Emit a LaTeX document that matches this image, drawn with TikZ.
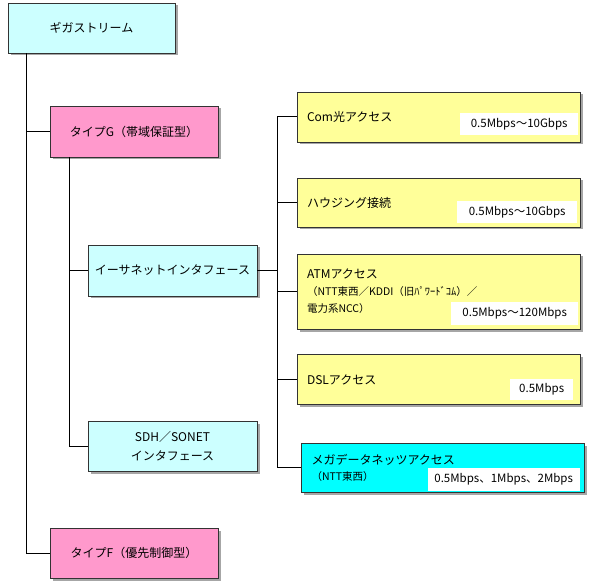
\documentclass[tikz,border=0pt]{standalone}
\usepackage{fontspec}
\setmainfont{Noto Sans CJK JP}
\usetikzlibrary{shadows}

\definecolor{paleCyan}{HTML}{CCFFFF}
\definecolor{pinkBox}{HTML}{FF99CC}
\definecolor{paleYellow}{HTML}{FFFF99}
\definecolor{brightCyan}{HTML}{00FFFF}

\newcommand{\subfont}{\fontsize{10.5}{17}\selectfont}

\begin{document}
\begin{tikzpicture}[x=1pt,y=1pt,
  box/.style={draw=black!80,line width=0.8pt,inner sep=0pt,
    drop shadow={shadow xshift=2.5pt,shadow yshift=-2.5pt,fill=black!35,opacity=1},
    font=\fontsize{12}{17}\selectfont},
  treebox/.style={box,minimum width=168pt,minimum height=51pt,align=center},
  svcbox/.style={box,fill=paleYellow,text width=263pt,inner xsep=10pt,
    minimum height=50pt,align=left},
  rate/.style={fill=white,inner sep=0pt,minimum height=22pt,anchor=south east,
    font=\fontsize{11.5}{13}\selectfont},
  tree/.style={line width=1pt}]
  \useasboundingbox (0,0) rectangle (592,582);

  % Draw left hand tree
  \node[treebox,fill=paleCyan,minimum width=167pt,minimum height=50pt] (root)
        at (91.5,554) {ギガストリーム};
  \node[treebox,fill=pinkBox] (typeG) at (134,450.5) {タイプG（帯域保証型）};
  \node[treebox,fill=paleCyan,minimum width=169pt] (eth)
        at (172.5,311.5) {イーサネットインタフェース};
  \node[treebox,fill=paleCyan,minimum width=169pt,minimum height=50pt,
        font=\fontsize{12}{19}\selectfont] (sdh)
        at (172.5,136) {SDH／SONET\\インタフェース};
  \node[treebox,fill=pinkBox,minimum height=50pt] (typeF)
        at (134,29) {タイプF（優先制御型）};

  % Draw access services
  \node[svcbox] (com) at (438.5,465) {Com光アクセス};
  \node[svcbox,minimum height=49pt] (housing) at (438.5,379.5) {ハウジング接続};
  \node[svcbox,minimum height=75pt] (atm) at (438.5,290.5)
        {ATMアクセス\\{\subfont（NTT東西／KDDI（旧ﾊﾟﾜｰﾄﾞｺﾑ）／}\\{\subfont 電力系NCC）}};
  \node[svcbox] (dsl) at (438.5,202.5) {DSLアクセス};
  \node[svcbox,fill=brightCyan,minimum height=49pt,
        font=\fontsize{12}{16}\selectfont] (mega)
        at (443,114.5) {メガデータネッツアクセス\\{\subfont（NTT東西）}};

  % Draw bandwidth labels
  \node[rate,minimum width=118pt] (comrate)
        at ([shift={(-2,7)}]com.south east) {0.5Mbps〜10Gbps};
  \node[rate,minimum width=120pt] (housingrate)
        at ([shift={(-3,4)}]housing.south east) {0.5Mbps〜10Gbps};
  \node[rate,minimum width=127pt,minimum height=23pt] (atmrate)
        at ([shift={(-2,4)}]atm.south east) {0.5Mbps〜120Mbps};
  \node[rate,minimum width=63pt,minimum height=21pt] (dslrate)
        at ([shift={(-7,5)}]dsl.south east) {0.5Mbps};
  \node[rate,minimum width=152pt,minimum height=23pt] (megarate)
        at ([shift={(-5,1)}]mega.south east) {0.5Mbps、1Mbps、2Mbps};

  % Draw connectors
  \draw[tree] ([xshift=19pt]root.south west) |- (typeG.west);
  \draw[tree] ([xshift=19pt]root.south west) |- (typeF.west);
  \draw[tree] ([xshift=20pt]typeG.south west) |- (eth.west);
  \draw[tree] ([xshift=20pt]typeG.south west) |- (sdh.west);

  \coordinate (bus) at ([xshift=20pt]eth.east);
  \draw[tree] (eth.east) -- (bus);
  \draw[tree] (com.west) -| (bus) |- (mega.west);
  \draw[tree] (bus |- housing.west) -- (housing.west);
  \draw[tree] (bus |- atm.west) -- (atm.west);
  \draw[tree] (bus |- dsl.west) -- (dsl.west);
\end{tikzpicture}
\end{document}
